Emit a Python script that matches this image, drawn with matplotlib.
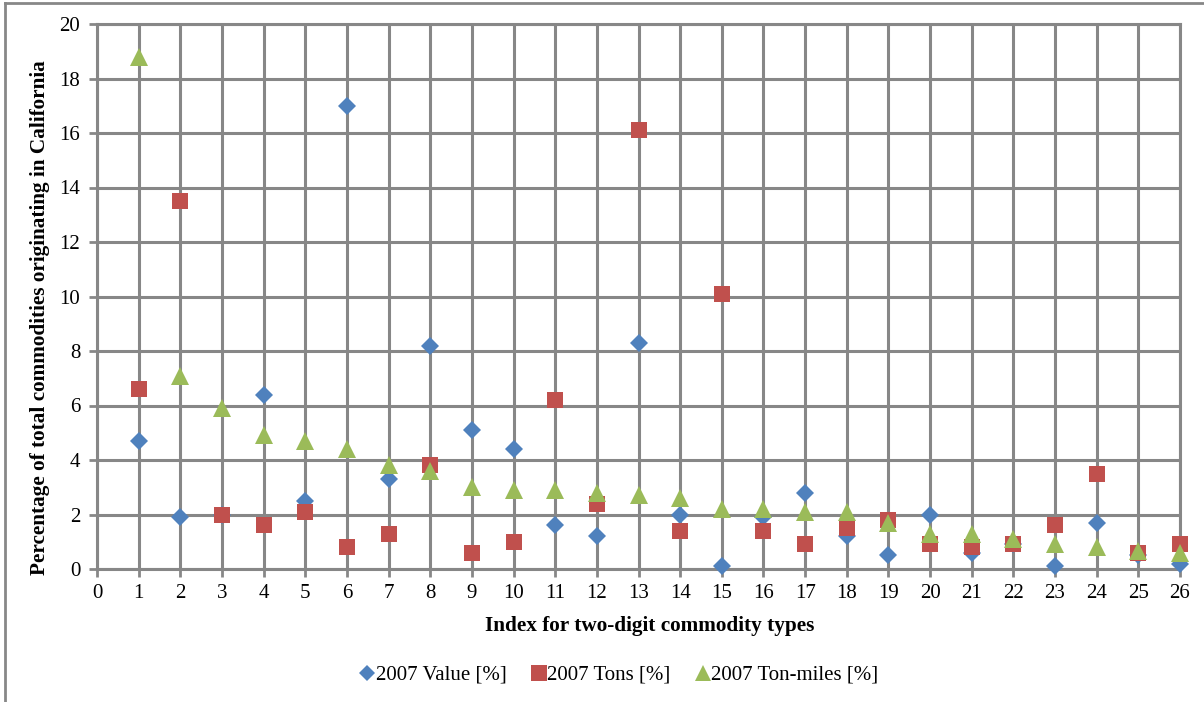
import matplotlib
matplotlib.use("Agg")
import matplotlib.pyplot as plt
from matplotlib.lines import Line2D

idx = list(range(1, 27))
value_2007 = [4.7, 1.9, 2.0, 6.4, 2.5, 17.0, 3.3, 8.2, 5.1, 4.4, 1.6, 1.2, 8.3,
              2.0, 0.1, 1.9, 2.8, 1.2, 0.5, 2.0, 0.6, 0.9, 0.1, 1.7, 0.5, 0.2]
tons_2007 = [6.6, 13.5, 2.0, 1.6, 2.1, 0.8, 1.3, 3.8, 0.6, 1.0, 6.2, 2.4, 16.1,
             1.4, 10.1, 1.4, 0.9, 1.5, 1.8, 0.9, 0.8, 0.9, 1.6, 3.5, 0.6, 0.9]
tonmiles_2007 = [18.8, 7.1, 5.9, 4.9, 4.7, 4.4, 3.8, 3.6, 3.0, 2.9, 2.9, 2.8, 2.7,
                 2.6, 2.2, 2.2, 2.1, 2.1, 1.7, 1.3, 1.3, 1.1, 0.9, 0.8, 0.65, 0.6]
series_labels = ["2007 Value [%]", "2007 Tons [%]", "2007 Ton-miles [%]"]
xticks = list(range(0, 27))
yticks = list(range(0, 21, 2))

plt.rcParams['font.family'] = ['Liberation Serif', 'DejaVu Serif']

W, H = 1204, 702
fig = plt.figure(figsize=(W / 100, H / 100), dpi=100)
ax = fig.add_axes([97 / W, 1 - 569 / H, (1180 - 97) / W, (569 - 24) / H])

gc = '#878787'
blue, red, green = '#4F81BD', '#C0504D', '#9BBB59'

ax.plot(idx, value_2007, linestyle='none', marker='D', ms=8.8, color=blue,
        mec=blue, mew=0, zorder=3, clip_on=False)
ax.plot(idx, tons_2007, linestyle='none', marker='s', ms=11.8, color=red,
        mec=red, mew=0, zorder=4, clip_on=False)
ax.plot(idx, tonmiles_2007, linestyle='none', marker='^', ms=12.8, color=green,
        mec=green, mew=0, zorder=5, clip_on=False)

ax.set_xlim(0, 26)
ax.set_ylim(0, 20)
ax.set_xticks(xticks)
ax.set_yticks(yticks)
ax.grid(True, color=gc, linewidth=2.2)
ax.set_axisbelow(True)
for s in ax.spines.values():
    s.set_color(gc)
    s.set_linewidth(2.2)
ax.tick_params(axis='both', colors=gc, width=2, length=6, labelsize=15,
               labelcolor='black')
ax.tick_params(axis='x', pad=5)
ax.tick_params(axis='y', pad=6)

ax.set_xlabel("Index for two-digit commodity types", fontsize=15.3,
              fontweight='bold')
ax.set_ylabel("Percentage of total commodities originating in California",
              fontsize=15.3, fontweight='bold')
ax.xaxis.set_label_coords((650 - 97) / 1083, (569 - 616) / 545)
ax.yaxis.set_label_coords((50 - 97) / 1083, (569 - 318) / 545)

handles = [
    Line2D([], [], linestyle='none', marker='D', ms=8, color=blue, mew=0),
    Line2D([], [], linestyle='none', marker='s', ms=11, color=red, mew=0),
    Line2D([], [], linestyle='none', marker='^', ms=12, color=green, mew=0),
]
fig.legend(handles, series_labels, loc='center', bbox_to_anchor=(619 / W, 1 - 675 / H),
           ncol=3, frameon=False, fontsize=15, handlelength=0.7,
           handletextpad=0.05, columnspacing=1.2)

# outer chart border (cropped)
fig.add_artist(Line2D([5 / W, 1.0], [1 - 3 / H, 1 - 3 / H], color=gc, lw=2,
                      transform=fig.transFigure))
fig.add_artist(Line2D([5 / W, 5 / W], [0, 1 - 3 / H], color=gc, lw=2,
                      transform=fig.transFigure))

fig.savefig("out.png", dpi=100)
